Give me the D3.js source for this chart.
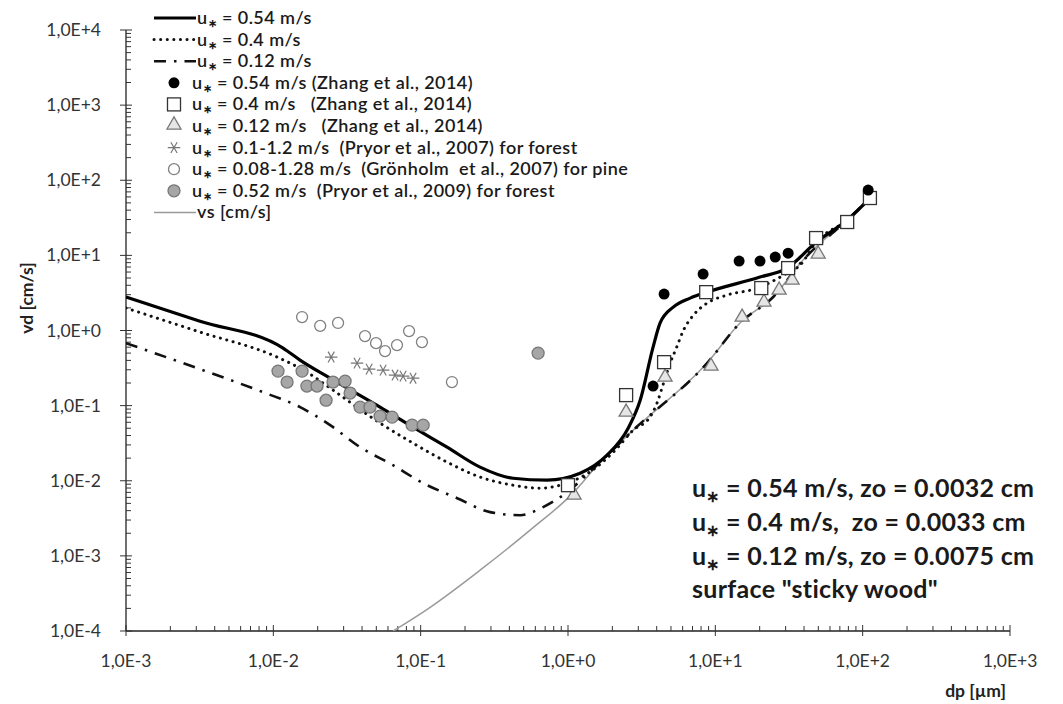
<!DOCTYPE html>
<html>
<head>
<meta charset="UTF-8">
<title>vd vs dp</title>
<script src="https://d3js.org/d3.v7.min.js"></script>
<style>
  body { margin: 0; background: #fff; }
  svg text { font-family: Lato, "Open Sans", sans-serif; white-space: pre; }
</style>
</head>
<body>
<div id="chart"></div>
<script>
// model curves (dp in um, vd in cm/s)
var solidDp = [0.001, 0.00318, 0.01164, 0.01517, 0.02427, 0.053, 0.0887, 0.151, 0.253, 0.424, 0.721, 1.208, 1.84, 2.56, 3.09, 3.78, 4.22, 5.18, 6.75, 8.79, 20.1, 30.7, 48.3, 78.5, 112];
var solidVd = [2.79, 1.33, 0.583, 0.404, 0.232, 0.0955, 0.0517, 0.028, 0.0152, 0.0108, 0.0102, 0.0126, 0.0219, 0.0501, 0.118, 0.601, 1.26, 2.05, 2.70, 3.24, 5.14, 6.77, 15.0, 29.5, 58];

var dotDp = [0.001, 0.00318, 0.0106, 0.0169, 0.0243, 0.053, 0.0887, 0.151, 0.253, 0.424, 0.647, 0.884, 1.53, 2.09, 2.77, 3.61, 4.01, 4.45, 4.93, 5.48, 6.08, 7.10, 8.75, 12.0, 19.1, 30.5, 37.7, 48.3, 78.5, 112];
var dotVd = [1.99, 0.953, 0.443, 0.279, 0.171, 0.0585, 0.0317, 0.0177, 0.0112, 0.00873, 0.00796, 0.00873, 0.0147, 0.0255, 0.0472, 0.071, 0.107, 0.198, 0.365, 0.607, 1.01, 1.60, 2.30, 2.96, 3.64, 5.76, 7.43, 15.0, 29.5, 58];

var dashDp = [0.001, 0.00303, 0.00851, 0.0152, 0.0243, 0.0388, 0.065, 0.104, 0.177, 0.296, 0.473, 0.678, 0.927, 1.65, 2.77, 8.79, 14.7, 24.7, 39.4, 78.5, 112];
var dashVd = [0.679, 0.316, 0.151, 0.0955, 0.055, 0.028, 0.0161, 0.00929, 0.00586, 0.00382, 0.00348, 0.00446, 0.00643, 0.0177, 0.0472, 0.368, 1.26, 2.79, 8.66, 29.5, 58];

var vsDp = [0.065, 0.116, 0.253, 0.553, 1.08, 1.65, 2.77, 8.79, 14.7, 24.7, 39.4, 78.5];
var vsVd = [0.0001, 0.000207, 0.000645, 0.0022, 0.00684, 0.0177, 0.0472, 0.368, 1.26, 2.79, 8.66, 29.5];

// measurements
var zhang054Dp = [3.78, 4.49, 8.26, 14.5, 20.1, 25.5, 31.2, 109];
var zhang054Vd = [0.182, 3.05, 5.64, 8.40, 8.40, 9.49, 10.7, 74];

var zhang04Dp = [1.00, 2.48, 4.49, 8.67, 20.5, 31.2, 48.3, 78.5, 112];
var zhang04Vd = [0.00873, 0.138, 0.379, 3.24, 3.67, 6.77, 17.0, 27.8, 58];

var zhang012Dp = [1.10, 2.48, 4.56, 9.35, 15.2, 21.4, 27.1, 33.2, 49.9];
var zhang012Vd = [0.00624, 0.0794, 0.232, 0.326, 1.46, 2.32, 3.35, 4.55, 10.1];

var pryor07Dp = [0.0247, 0.037, 0.0447, 0.0556, 0.067, 0.076, 0.0888];
var pryor07Vd = [0.443, 0.368, 0.306, 0.297, 0.255, 0.247, 0.232];

var gronDp = [0.01567, 0.0208, 0.0275, 0.0419, 0.0498, 0.0573, 0.0691, 0.0834, 0.102, 0.163];
var gronVd = [1.51, 1.15, 1.26, 0.842, 0.679, 0.532, 0.640, 0.982, 0.701, 0.206];

var pryor09Dp = [0.01076, 0.01567, 0.0124, 0.0169, 0.0198, 0.0254, 0.0307, 0.0228, 0.0332, 0.0388, 0.0453, 0.053, 0.064, 0.0875, 0.104, 0.627];
var pryor09Vd = [0.288, 0.288, 0.206, 0.182, 0.182, 0.206, 0.212, 0.118, 0.147, 0.0955, 0.0955, 0.0725, 0.0703, 0.055, 0.055, 0.500];

var xTicks = [1e-3, 1e-2, 1e-1, 1, 10, 100, 1000];
var xTickLabels = ["1,0E-3", "1,0E-2", "1,0E-1", "1,0E+0", "1,0E+1", "1,0E+2", "1,0E+3"];
var yTicks = [1e4, 1e3, 1e2, 10, 1, 1e-1, 1e-2, 1e-3, 1e-4];
var yTickLabels = ["1,0E+4", "1,0E+3", "1,0E+2", "1,0E+1", "1,0E+0", "1,0E-1", "1,0E-2", "1,0E-3", "1,0E-4"];

var legendLabels = [
  "= 0.54 m/s",
  "= 0.4 m/s",
  "= 0.12 m/s",
  "= 0.54 m/s (Zhang et al., 2014)",
  "= 0.4 m/s   (Zhang et al., 2014)",
  "= 0.12 m/s   (Zhang et al., 2014)",
  "= 0.1-1.2 m/s  (Pryor et al., 2007) for forest",
  "= 0.08-1.28 m/s  (Grönholm  et al., 2007) for pine",
  "= 0.52 m/s  (Pryor et al., 2009) for forest",
  "vs [cm/s]"
];
var noteLines = [
  ["u", "= 0.54 m/s, zo = 0.0032 cm"],
  ["u", "= 0.4 m/s,  zo = 0.0033 cm"],
  ["u", "= 0.12 m/s, zo = 0.0075 cm"],
  ["", "surface \"sticky wood\""]
];

var W = 1063, H = 704;
var svg = d3.select("#chart").append("svg").attr("width", W).attr("height", H);

var x = d3.scaleLog().domain([1e-3, 1e3]).range([126, 1010]);
var y = d3.scaleLog().domain([1e-4, 1e4]).range([631, 30]);

// axes
var gx = svg.append("g");
gx.append("line").attr("x1", x(1e-3)).attr("x2", x(1e3)).attr("y1", y(1e-4)).attr("y2", y(1e-4))
  .attr("stroke", "#222").attr("stroke-width", 1.3);
var gy = svg.append("g");
gy.append("line").attr("x1", x(1e-3)).attr("x2", x(1e-3)).attr("y1", y(1e-4)).attr("y2", y(1e4))
  .attr("stroke", "#222").attr("stroke-width", 1.3);

var minorX = [], minorY = [];
for (var e = -3; e < 3; e++) for (var k = 2; k < 10; k++) minorX.push(k * Math.pow(10, e));
for (var e = -4; e < 4; e++) for (var k = 2; k < 10; k++) minorY.push(k * Math.pow(10, e));

gx.selectAll(".mx").data(minorX).enter().append("line")
  .attr("x1", d => x(d)).attr("x2", d => x(d)).attr("y1", y(1e-4)).attr("y2", y(1e-4) - 5)
  .attr("stroke", "#333");
gx.selectAll(".Mx").data(xTicks).enter().append("line")
  .attr("x1", d => x(d)).attr("x2", d => x(d)).attr("y1", y(1e-4) - 6).attr("y2", y(1e-4) + 5)
  .attr("stroke", "#333");
gx.selectAll(".lx").data(xTicks).enter().append("text")
  .attr("x", d => x(d)).attr("y", 667).attr("text-anchor", "middle")
  .attr("font-size", 17.5).attr("fill", "#333").text((d, i) => xTickLabels[i]);

gy.selectAll(".my").data(minorY).enter().append("line")
  .attr("x1", x(1e-3)).attr("x2", x(1e-3) + 5).attr("y1", d => y(d)).attr("y2", d => y(d))
  .attr("stroke", "#333");
gy.selectAll(".My").data(yTicks).enter().append("line")
  .attr("x1", x(1e-3) - 6).attr("x2", x(1e-3) + 6).attr("y1", d => y(d)).attr("y2", d => y(d))
  .attr("stroke", "#333");
gy.selectAll(".ly").data(yTicks).enter().append("text")
  .attr("x", 101).attr("y", d => y(d) + 6).attr("text-anchor", "end")
  .attr("font-size", 17.5).attr("fill", "#333").text((d, i) => yTickLabels[i]);

svg.append("text").attr("transform", "translate(33,298) rotate(-90)")
  .attr("text-anchor", "middle").attr("font-size", 17.5).attr("font-weight", "bold").attr("fill", "#222")
  .text("vd [cm/s]");
svg.append("text").attr("x", 1006).attr("y", 697).attr("text-anchor", "end")
  .attr("font-size", 17.5).attr("font-weight", "bold").attr("fill", "#222")
  .text("dp [µm]");

// clip
svg.append("clipPath").attr("id", "clip").append("rect")
  .attr("x", 126).attr("y", 30).attr("width", 884).attr("height", 601);
var plot = svg.append("g").attr("clip-path", "url(#clip)");

var line = d3.line().x(d => x(d[0])).y(d => y(d[1])).curve(d3.curveMonotoneX);
function pairs(a, b) { return a.map((v, i) => [v, b[i]]); }

var styles = {
  vs: {stroke: "#9a9a9a", width: 1.5, dash: null, cap: "butt"},
  dash: {stroke: "#111", width: 2.6, dash: "12,8,2.5,8", cap: "butt"},
  dot: {stroke: "#111", width: 3, dash: "0.1,6.5", cap: "round"},
  solid: {stroke: "#000", width: 3.2, dash: null, cap: "butt"}
};
function drawLine(g, data, s) {
  g.append("path").attr("d", line(data)).attr("fill", "none")
    .attr("stroke", s.stroke).attr("stroke-width", s.width)
    .attr("stroke-dasharray", s.dash).attr("stroke-linecap", s.cap);
}
drawLine(plot, pairs(vsDp, vsVd), styles.vs);
drawLine(plot, pairs(dashDp, dashVd), styles.dash);
drawLine(plot, pairs(dotDp, dotVd), styles.dot);
drawLine(plot, pairs(solidDp, solidVd), styles.solid);

// markers
var markers = {
  filled: function(g) { g.append("circle").attr("r", 5.5).attr("fill", "#000"); },
  square: function(g) { g.append("rect").attr("x", -6.5).attr("y", -6.5).attr("width", 13).attr("height", 13)
    .attr("fill", "#fff").attr("stroke", "#333").attr("stroke-width", 1.3); },
  triangle: function(g) { g.append("path").attr("d", d3.symbol(d3.symbolTriangle, 85)())
    .attr("transform", "translate(0,-1)").attr("fill", "#e6e6e6").attr("stroke", "#777").attr("stroke-width", 1.3); },
  aster: function(g) { g.append("path").attr("d", d3.symbol(d3.symbolAsterisk, 110)())
    .attr("transform", "rotate(90)").attr("fill", "none").attr("stroke", "#777").attr("stroke-width", 1.2); },
  open: function(g) { g.append("circle").attr("r", 5.5).attr("fill", "#fff").attr("stroke", "#808080").attr("stroke-width", 1.3); },
  gray: function(g) { g.append("circle").attr("r", 6).attr("fill", "#a6a6a6").attr("stroke", "#777").attr("stroke-width", 1.3); }
};
function drawPts(dp, vd, kind) {
  plot.selectAll(null).data(pairs(dp, vd)).enter().append("g")
    .attr("transform", d => "translate(" + x(d[0]) + "," + y(d[1]) + ")")
    .each(function() { markers[kind](d3.select(this)); });
}
drawPts(pryor09Dp, pryor09Vd, "gray");
drawPts(gronDp, gronVd, "open");
drawPts(pryor07Dp, pryor07Vd, "aster");
drawPts(zhang012Dp, zhang012Vd, "triangle");
drawPts(zhang04Dp, zhang04Vd, "square");
drawPts(zhang054Dp, zhang054Vd, "filled");

// legend
var legKinds = ["solid", "dot", "dash", "filled", "square", "triangle", "aster", "open", "gray", "vs"];
var leg = svg.append("g");
legKinds.forEach(function(k, i) {
  var yy = 18 + i * 21.6;
  var tx;
  if (styles[k]) {
    var s = styles[k];
    leg.append("line").attr("x1", 154).attr("x2", 196).attr("y1", yy).attr("y2", yy)
      .attr("stroke", s.stroke).attr("stroke-width", s.width)
      .attr("stroke-dasharray", s.dash).attr("stroke-linecap", s.cap);
    tx = 197;
  } else {
    var g = leg.append("g").attr("transform", "translate(174," + yy + ")");
    markers[k](g);
    tx = 192;
  }
  var t = leg.append("text").attr("x", tx).attr("y", yy + 6).attr("font-size", 18)
    .attr("font-weight", 600).attr("letter-spacing", 0.45).attr("fill", "#1a1a1a");
  if (k === "vs") { t.text(legendLabels[i]); return; }
  t.append("tspan").text("u");
  t.append("tspan").attr("font-size", 11).attr("dy", 3).attr("font-weight", "bold").text("∗");
  t.append("tspan").attr("dy", -3).text(" " + legendLabels[i]);
});

// note
noteLines.forEach(function(l, i) {
  var t = svg.append("text").attr("x", 692).attr("y", 497 + i * 33.8)
    .attr("font-size", 25).attr("font-weight", "bold").attr("letter-spacing", 0.3).attr("fill", "#1a1a1a");
  if (l[0]) {
    t.append("tspan").text("u");
    t.append("tspan").attr("font-size", 16).attr("dy", 5).text("∗");
    t.append("tspan").attr("dy", -5).text(" " + l[1]);
  } else {
    t.text(l[1]);
  }
});
</script>
</body>
</html>
